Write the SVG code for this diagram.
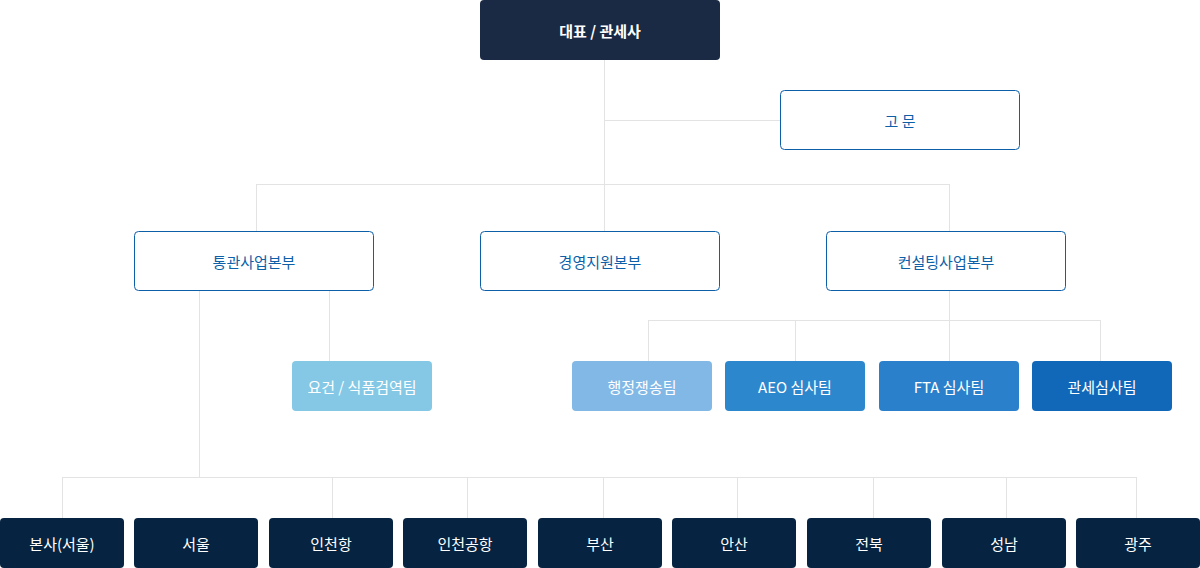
<svg xmlns="http://www.w3.org/2000/svg" width="1200" height="568" viewBox="0 0 1200 568">
<style>
text{font-family:"Noto Sans CJK KR","Noto Sans",sans-serif;font-size:15px;text-anchor:middle;dominant-baseline:central}
.ln{stroke:#e3e3e3;stroke-width:1;fill:none}
.dk{fill:#1b2a44}
.ol{fill:#fff;stroke:#0d5fa8;stroke-width:1}
.ot{fill:#0d5fa8}
.wt{fill:#fff}
.bt{fill:#062441}
</style>
<rect width="1200" height="568" fill="#fff"/>
<g id="connectors" class="ln">
<path d="M604.5 60V231M604.5 120.5H780M256.5 184.5H949.5M256.5 184V231M949.5 184V231"/>
<path d="M199.5 291V477M329.5 291V361M62.5 477.5H1136.5M62.5 477V518M332.5 477V518M467.5 477V518M603.5 477V518M737.5 477V518M873.5 477V518M1006.5 477V518M1136.5 477V518"/>
<path d="M949.5 291V320M648.5 320.5H1100.5M648.5 320V361M795.5 320V361M949.5 320V361M1100.5 320V361"/>
</g>
<g id="ceo"><rect x="480" y="0" width="240" height="60" rx="4" class="dk"/><text x="600" y="30" class="wt" font-size="17" font-weight="bold">대표 / 관세사</text></g>
<g id="advisor"><rect x="780.5" y="90.5" width="239" height="59" rx="4" class="ol"/><text x="900" y="120" class="ot">고  문</text></g>
<g id="div1"><rect x="134.5" y="231.5" width="239" height="59" rx="4" class="ol"/><text x="254" y="261" class="ot">통관사업본부</text></g>
<g id="div2"><rect x="480.5" y="231.5" width="239" height="59" rx="4" class="ol"/><text x="600" y="261" class="ot">경영지원본부</text></g>
<g id="div3"><rect x="826.5" y="231.5" width="239" height="59" rx="4" class="ol"/><text x="946" y="261" class="ot">컨설팅사업본부</text></g>
<g id="t1"><rect x="292" y="361" width="140" height="50" rx="4" fill="#84c8e6"/><text x="362" y="386" class="wt" font-size="14">요건 / 식품검역팀</text></g>
<g id="t2"><rect x="572" y="361" width="140" height="50" rx="4" fill="#82b8e6"/><text x="642" y="386" class="wt" font-size="14">행정쟁송팀</text></g>
<g id="t3"><rect x="725" y="361" width="140" height="50" rx="4" fill="#2d87cd"/><text x="795" y="386" class="wt" font-size="14">AEO 심사팀</text></g>
<g id="t4"><rect x="879" y="361" width="140" height="50" rx="4" fill="#2a80ca"/><text x="949" y="386" class="wt" font-size="14">FTA 심사팀</text></g>
<g id="t5"><rect x="1032" y="361" width="140" height="50" rx="4" fill="#1268b8"/><text x="1102" y="386" class="wt" font-size="14">관세심사팀</text></g>
<g id="b1"><rect x="0" y="518" width="124" height="50" rx="4" class="bt"/><text x="62" y="543" class="wt" font-size="14">본사(서울)</text></g>
<g id="b2"><rect x="134" y="518" width="124" height="50" rx="4" class="bt"/><text x="196" y="543" class="wt" font-size="14">서울</text></g>
<g id="b3"><rect x="269" y="518" width="124" height="50" rx="4" class="bt"/><text x="331" y="543" class="wt" font-size="14">인천항</text></g>
<g id="b4"><rect x="403" y="518" width="124" height="50" rx="4" class="bt"/><text x="465" y="543" class="wt" font-size="14">인천공항</text></g>
<g id="b5"><rect x="538" y="518" width="124" height="50" rx="4" class="bt"/><text x="600" y="543" class="wt" font-size="14">부산</text></g>
<g id="b6"><rect x="672" y="518" width="124" height="50" rx="4" class="bt"/><text x="734" y="543" class="wt" font-size="14">안산</text></g>
<g id="b7"><rect x="807" y="518" width="124" height="50" rx="4" class="bt"/><text x="869" y="543" class="wt" font-size="14">전북</text></g>
<g id="b8"><rect x="942" y="518" width="124" height="50" rx="4" class="bt"/><text x="1004" y="543" class="wt" font-size="14">성남</text></g>
<g id="b9"><rect x="1076" y="518" width="124" height="50" rx="4" class="bt"/><text x="1138" y="543" class="wt" font-size="14">광주</text></g>
</svg>
